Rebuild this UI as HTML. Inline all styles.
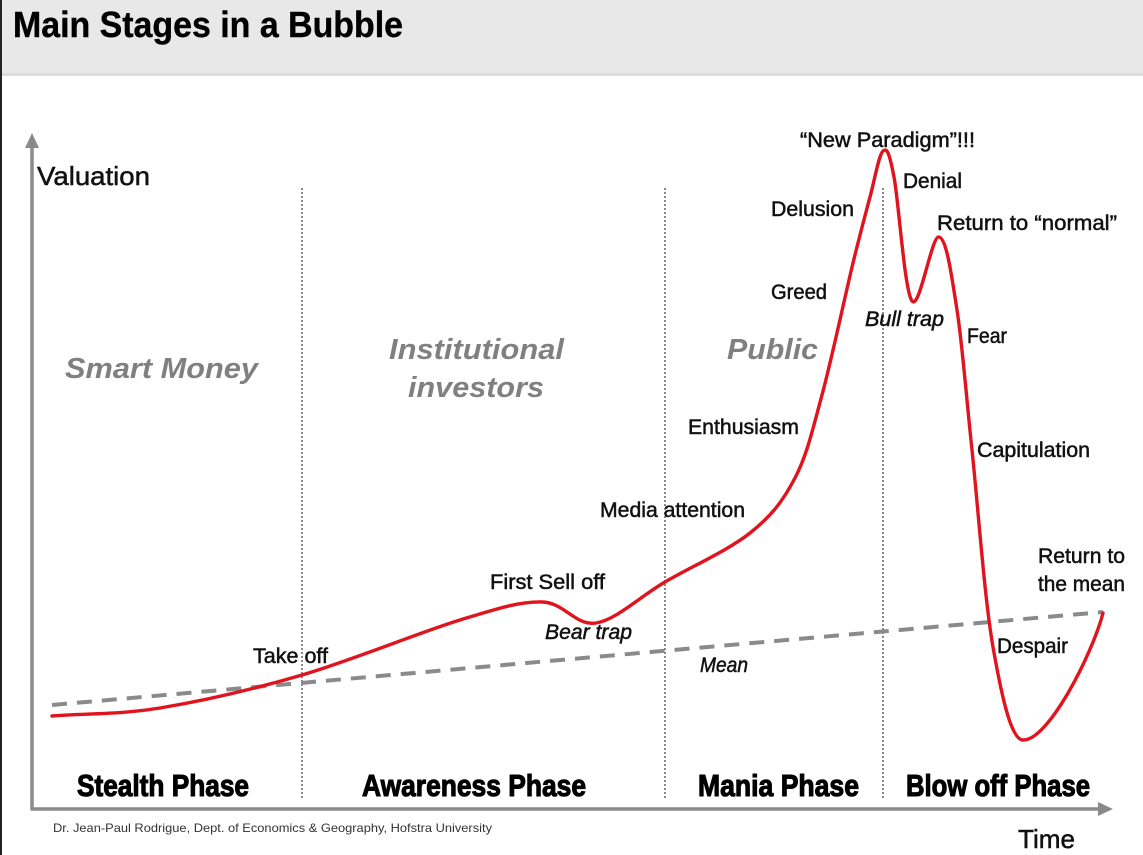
<!DOCTYPE html>
<html>
<head>
<meta charset="utf-8">
<style>
  html,body{margin:0;padding:0;background:#fff;}
  svg{display:block;}
  .lbl{font-family:"Liberation Sans",Arial,sans-serif;font-size:21px;fill:#111;stroke:#111;stroke-width:0.5px;}
  .it{font-style:italic;}
  .grp{font-family:"Liberation Sans",Arial,sans-serif;font-size:29px;font-weight:bold;font-style:italic;fill:#808080;}
  .ph{font-family:"Liberation Sans Narrow","Liberation Sans",Arial,sans-serif;font-size:31px;font-weight:bold;fill:#000;stroke:#000;stroke-width:1.1px;}
</style>
</head>
<body>
<svg width="1143" height="855" viewBox="0 0 1143 855" xmlns="http://www.w3.org/2000/svg">
  <rect width="1143" height="855" fill="#fff"/>
  <!-- header band -->
  <rect width="1143" height="74" fill="#e8e8e8"/>
  <rect y="73" width="1143" height="3" fill="#dcdcdc"/>
  <rect width="2" height="855" fill="#222"/>
  <text x="13" y="37" font-family="Liberation Sans, Arial, sans-serif" font-size="36" font-weight="bold" fill="#000" stroke="#000" stroke-width="0.4" textLength="390" lengthAdjust="spacingAndGlyphs">Main Stages in a Bubble</text>

  <!-- vertical dotted separators -->
  <g stroke="#6a6a6a" stroke-width="1.6" stroke-dasharray="2 2">
    <line x1="302" y1="188" x2="302" y2="800"/>
    <line x1="665" y1="188" x2="665" y2="800"/>
    <line x1="883" y1="188" x2="883" y2="800"/>
  </g>

  <!-- axes -->
  <path d="M32,147 L32,809 L1099,809" fill="none" stroke="#8a8a8a" stroke-width="3.5" stroke-linejoin="round"/>
  <polygon points="32,133 25,148 39,148" fill="#8a8a8a"/>
  <polygon points="1113,809 1098,802 1098,816" fill="#8a8a8a"/>

  <!-- mean dashed line -->
  <line x1="52" y1="705" x2="1103" y2="612" stroke="#8a8a8a" stroke-width="4" stroke-dasharray="15 10"/>

  <!-- red bubble curve -->
  <path d="M52,716 C88,713.3 118.3,714.8 160,708 C201.7,701.2 252,689.7 302,675 C352,660.3 420,632.2 460,620 C500,607.8 519.3,601.5 542,602 C564.7,602.5 575.5,626.3 596,623 C616.5,619.7 639.3,597 665,582 C690.7,567 728.3,550.3 750,533 C771.7,515.7 783,501 795,478 C807,455 812.3,430.8 822,395 C831.7,359.2 845,296 853,263 C861,230 865,215.7 870,197 C875,178.3 879,154.3 883,151 C887,147.7 889.2,152 894,177 C898.8,202 904.5,291 912,301 C919.5,311 931.5,235.5 939,237 C946.5,238.5 951.5,274.5 957,310 C962.5,345.5 966,393.8 972,450 C978,506.2 984.5,598.7 993,647 C1001.5,695.3 1011,740 1023,740 C1048,741 1092,655 1103,613"
        fill="none" stroke="#e0141e" stroke-width="3.4" stroke-linecap="round" stroke-linejoin="round"/>

  <!-- axis labels -->
  <text x="37" y="185" class="lbl" style="font-size:26px" textLength="113" lengthAdjust="spacingAndGlyphs">Valuation</text>
  <text x="1018" y="848" class="lbl" style="font-size:26px" textLength="57" lengthAdjust="spacingAndGlyphs">Time</text>

  <!-- group labels -->
  <text x="65" y="378" class="grp" textLength="193" lengthAdjust="spacingAndGlyphs">Smart Money</text>
  <text x="389" y="359" class="grp" textLength="175" lengthAdjust="spacingAndGlyphs">Institutional</text>
  <text x="408" y="397" class="grp" textLength="136" lengthAdjust="spacingAndGlyphs">investors</text>
  <text x="727" y="359" class="grp" textLength="91" lengthAdjust="spacingAndGlyphs">Public</text>

  <!-- stage labels -->
  <text x="800" y="147" class="lbl" textLength="175" lengthAdjust="spacingAndGlyphs">“New Paradigm”!!!</text>
  <text x="903" y="188" class="lbl" textLength="59" lengthAdjust="spacingAndGlyphs">Denial</text>
  <text x="771" y="216" class="lbl" textLength="83" lengthAdjust="spacingAndGlyphs">Delusion</text>
  <text x="937" y="230" class="lbl" textLength="180" lengthAdjust="spacingAndGlyphs">Return to “normal”</text>
  <text x="771" y="299" class="lbl" textLength="56" lengthAdjust="spacingAndGlyphs">Greed</text>
  <text x="865" y="326" class="lbl it" textLength="79" lengthAdjust="spacingAndGlyphs">Bull trap</text>
  <text x="967" y="343" class="lbl" textLength="40" lengthAdjust="spacingAndGlyphs">Fear</text>
  <text x="688" y="434" class="lbl" textLength="111" lengthAdjust="spacingAndGlyphs">Enthusiasm</text>
  <text x="977" y="457" class="lbl" textLength="113" lengthAdjust="spacingAndGlyphs">Capitulation</text>
  <text x="600" y="517" class="lbl" textLength="145" lengthAdjust="spacingAndGlyphs">Media attention</text>
  <text x="1038" y="563" class="lbl" textLength="87" lengthAdjust="spacingAndGlyphs">Return to</text>
  <text x="1038" y="591" class="lbl" textLength="87" lengthAdjust="spacingAndGlyphs">the mean</text>
  <text x="490" y="589" class="lbl" textLength="115" lengthAdjust="spacingAndGlyphs">First Sell off</text>
  <text x="545" y="639" class="lbl it" textLength="87" lengthAdjust="spacingAndGlyphs">Bear trap</text>
  <text x="253" y="663" class="lbl" textLength="75" lengthAdjust="spacingAndGlyphs">Take off</text>
  <text x="997" y="653" class="lbl" textLength="71" lengthAdjust="spacingAndGlyphs">Despair</text>
  <text x="700" y="672" class="lbl it" textLength="48" lengthAdjust="spacingAndGlyphs">Mean</text>

  <!-- phase labels -->
  <text x="77" y="796" class="ph" textLength="172" lengthAdjust="spacingAndGlyphs">Stealth Phase</text>
  <text x="362" y="796" class="ph" textLength="224" lengthAdjust="spacingAndGlyphs">Awareness Phase</text>
  <text x="698" y="796" class="ph" textLength="161" lengthAdjust="spacingAndGlyphs">Mania Phase</text>
  <text x="906" y="796" class="ph" textLength="184" lengthAdjust="spacingAndGlyphs">Blow off Phase</text>

  <!-- footnote -->
  <text x="53" y="832" font-family="Liberation Sans Narrow, Liberation Sans, Arial, sans-serif" font-size="12" fill="#333" textLength="439" lengthAdjust="spacingAndGlyphs">Dr. Jean-Paul Rodrigue, Dept. of Economics &amp; Geography, Hofstra University</text>
</svg>
</body>
</html>
